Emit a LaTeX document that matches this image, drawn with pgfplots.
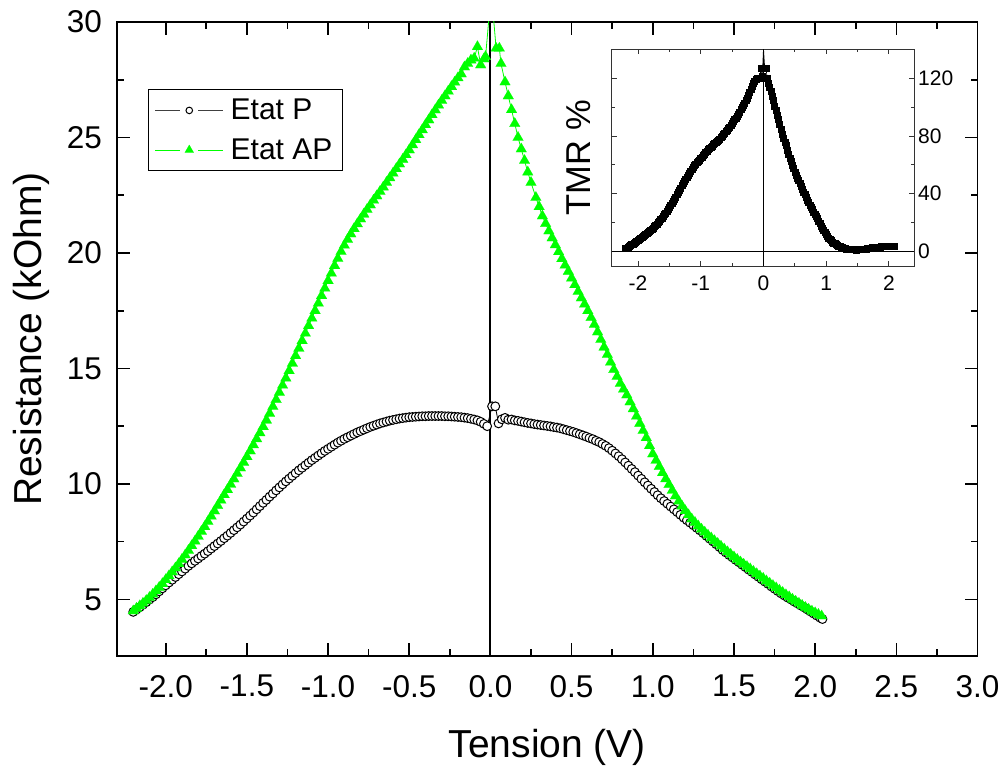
\documentclass[border=0pt]{standalone}
\usepackage{fontspec}
\setmainfont{Liberation Sans}
\usepackage{pgfplots}
\pgfplotsset{compat=1.18}
\usepackage{pgfplotstable}
\definecolor{apgreen}{RGB}{0,255,0}
\pgfplotsset{/pgf/number format/assume math mode=true}

\pgfplotstableread{
x y
-2.20 4.46
-2.18 4.56
-2.16 4.66
-2.14 4.77
-2.12 4.88
-2.10 4.99
-2.08 5.10
-2.06 5.22
-2.04 5.35
-2.02 5.48
-2.00 5.61
-1.98 5.73
-1.96 5.85
-1.94 5.97
-1.92 6.09
-1.90 6.21
-1.88 6.33
-1.86 6.45
-1.84 6.56
-1.82 6.67
-1.80 6.77
-1.78 6.88
-1.76 6.98
-1.74 7.09
-1.72 7.20
-1.70 7.31
-1.68 7.42
-1.66 7.53
-1.64 7.65
-1.62 7.76
-1.60 7.88
-1.58 8.00
-1.56 8.12
-1.54 8.24
-1.52 8.37
-1.50 8.50
-1.48 8.63
-1.46 8.76
-1.44 8.90
-1.42 9.04
-1.40 9.18
-1.38 9.31
-1.36 9.45
-1.34 9.58
-1.32 9.72
-1.30 9.85
-1.28 9.98
-1.26 10.11
-1.24 10.23
-1.22 10.35
-1.20 10.47
-1.18 10.59
-1.16 10.70
-1.14 10.81
-1.12 10.92
-1.10 11.03
-1.08 11.13
-1.06 11.23
-1.04 11.33
-1.02 11.43
-1.00 11.52
-0.98 11.61
-0.96 11.70
-0.94 11.79
-0.92 11.87
-0.90 11.95
-0.88 12.02
-0.86 12.09
-0.84 12.16
-0.82 12.23
-0.80 12.29
-0.78 12.35
-0.76 12.41
-0.74 12.47
-0.72 12.52
-0.70 12.57
-0.68 12.62
-0.66 12.66
-0.64 12.70
-0.62 12.74
-0.60 12.77
-0.58 12.80
-0.56 12.83
-0.54 12.85
-0.52 12.87
-0.50 12.89
-0.48 12.90
-0.46 12.91
-0.44 12.92
-0.42 12.93
-0.40 12.93
-0.38 12.94
-0.36 12.94
-0.34 12.94
-0.32 12.94
-0.30 12.94
-0.28 12.93
-0.26 12.93
-0.24 12.92
-0.22 12.91
-0.20 12.90
-0.18 12.89
-0.16 12.87
-0.14 12.85
-0.12 12.82
-0.10 12.79
-0.08 12.75
-0.06 12.69
-0.04 12.60
-0.02 12.50
0.01 13.36
0.03 13.36
0.05 12.62
0.07 12.80
0.09 12.86
0.11 12.78
0.13 12.79
0.15 12.75
0.17 12.73
0.19 12.70
0.21 12.67
0.23 12.64
0.25 12.62
0.27 12.59
0.29 12.57
0.31 12.55
0.33 12.53
0.35 12.51
0.37 12.49
0.39 12.46
0.41 12.44
0.43 12.41
0.45 12.37
0.47 12.33
0.49 12.29
0.51 12.25
0.53 12.20
0.55 12.15
0.57 12.10
0.59 12.05
0.61 11.99
0.63 11.94
0.65 11.87
0.67 11.81
0.69 11.73
0.71 11.65
0.73 11.55
0.75 11.44
0.77 11.32
0.79 11.20
0.81 11.07
0.83 10.93
0.85 10.79
0.87 10.65
0.89 10.51
0.91 10.36
0.93 10.22
0.95 10.07
0.97 9.93
0.99 9.79
1.01 9.65
1.03 9.51
1.05 9.38
1.07 9.26
1.09 9.14
1.11 9.02
1.13 8.90
1.15 8.78
1.17 8.66
1.19 8.54
1.21 8.43
1.23 8.32
1.25 8.21
1.27 8.10
1.29 7.99
1.31 7.87
1.33 7.75
1.35 7.63
1.37 7.51
1.39 7.39
1.41 7.27
1.43 7.14
1.45 7.03
1.47 6.92
1.49 6.82
1.51 6.71
1.53 6.61
1.55 6.50
1.57 6.40
1.59 6.29
1.61 6.19
1.63 6.08
1.65 5.98
1.67 5.87
1.69 5.77
1.71 5.67
1.73 5.56
1.75 5.46
1.77 5.36
1.79 5.26
1.81 5.17
1.83 5.08
1.85 5.00
1.87 4.91
1.89 4.83
1.91 4.74
1.93 4.66
1.95 4.57
1.97 4.48
1.99 4.39
2.01 4.30
2.03 4.21
2.045 4.15
}\dataP

\pgfplotstableread{
x y
-2.20 4.50
-2.18 4.61
-2.16 4.72
-2.14 4.83
-2.12 4.95
-2.10 5.08
-2.08 5.22
-2.06 5.37
-2.04 5.52
-2.02 5.68
-2.00 5.85
-1.98 6.02
-1.96 6.19
-1.94 6.36
-1.92 6.54
-1.90 6.73
-1.88 6.92
-1.86 7.12
-1.84 7.32
-1.82 7.52
-1.80 7.73
-1.78 7.94
-1.76 8.15
-1.74 8.37
-1.72 8.60
-1.70 8.83
-1.68 9.06
-1.66 9.29
-1.64 9.53
-1.62 9.75
-1.60 9.98
-1.58 10.21
-1.56 10.45
-1.54 10.69
-1.52 10.93
-1.50 11.18
-1.48 11.43
-1.46 11.69
-1.44 11.95
-1.42 12.21
-1.40 12.48
-1.38 12.76
-1.36 13.05
-1.34 13.35
-1.32 13.65
-1.30 13.96
-1.28 14.27
-1.26 14.58
-1.24 14.90
-1.22 15.22
-1.20 15.55
-1.18 15.87
-1.16 16.20
-1.14 16.52
-1.12 16.85
-1.10 17.17
-1.08 17.50
-1.06 17.82
-1.04 18.15
-1.02 18.47
-1.00 18.80
-0.98 19.12
-0.96 19.45
-0.94 19.76
-0.92 20.06
-0.90 20.33
-0.88 20.58
-0.86 20.82
-0.84 21.05
-0.82 21.26
-0.80 21.47
-0.78 21.68
-0.76 21.88
-0.74 22.08
-0.72 22.28
-0.70 22.47
-0.68 22.66
-0.66 22.85
-0.64 23.05
-0.62 23.25
-0.60 23.45
-0.58 23.65
-0.56 23.85
-0.54 24.05
-0.52 24.25
-0.50 24.46
-0.48 24.68
-0.46 24.90
-0.44 25.12
-0.42 25.33
-0.40 25.55
-0.38 25.76
-0.36 25.98
-0.34 26.19
-0.32 26.40
-0.30 26.60
-0.28 26.80
-0.26 27.00
-0.24 27.20
-0.22 27.39
-0.20 27.58
-0.18 27.75
-0.16 28.05
-0.14 28.20
-0.12 28.35
-0.10 28.43
-0.08 28.93
-0.06 28.14
-0.04 28.40
-0.03 28.50
-0.01 30.10
0.02 30.10
0.035 28.86
0.055 28.86
0.065 28.20
0.09 27.40
0.11 26.80
0.13 26.20
0.15 25.60
0.17 25.00
0.19 24.50
0.21 24.00
0.23 23.50
0.25 23.05
0.28 22.40
0.30 22.00
0.32 21.60
0.34 21.27
0.36 20.95
0.38 20.65
0.40 20.35
0.42 20.05
0.44 19.75
0.46 19.47
0.48 19.20
0.50 18.91
0.52 18.62
0.54 18.33
0.56 18.05
0.58 17.78
0.60 17.50
0.62 17.20
0.64 16.90
0.66 16.58
0.68 16.25
0.70 15.92
0.72 15.60
0.74 15.27
0.76 14.95
0.78 14.65
0.80 14.35
0.82 14.10
0.84 13.85
0.86 13.55
0.88 13.25
0.90 12.93
0.92 12.62
0.94 12.31
0.96 12.00
0.98 11.65
1.00 11.30
1.02 11.02
1.04 10.75
1.06 10.48
1.08 10.22
1.10 9.97
1.12 9.72
1.14 9.48
1.16 9.25
1.18 9.04
1.20 8.84
1.22 8.66
1.24 8.48
1.26 8.33
1.28 8.18
1.30 8.04
1.32 7.91
1.34 7.78
1.36 7.66
1.38 7.54
1.40 7.42
1.42 7.30
1.44 7.18
1.46 7.06
1.48 6.95
1.50 6.84
1.52 6.73
1.54 6.62
1.56 6.52
1.58 6.42
1.60 6.32
1.62 6.21
1.64 6.11
1.66 6.01
1.68 5.91
1.70 5.80
1.72 5.70
1.74 5.60
1.76 5.50
1.78 5.40
1.80 5.30
1.82 5.20
1.84 5.11
1.86 5.01
1.88 4.92
1.90 4.83
1.92 4.74
1.94 4.65
1.96 4.57
1.98 4.49
2.00 4.42
2.02 4.35
2.04 4.28
}\dataAP

\pgfplotstableread{
x y
-2.20 2.0
-2.18 2.5
-2.16 3.0
-2.14 3.5
-2.12 4.1
-2.10 4.7
-2.08 5.3
-2.06 5.9
-2.04 6.5
-2.02 7.1
-2.00 7.7
-1.98 8.3
-1.96 9.0
-1.94 9.7
-1.92 10.4
-1.90 11.1
-1.88 11.8
-1.86 12.5
-1.84 13.2
-1.82 14.0
-1.80 14.8
-1.78 15.6
-1.76 16.4
-1.74 17.3
-1.72 18.2
-1.70 19.2
-1.68 20.2
-1.66 21.2
-1.64 22.3
-1.62 23.3
-1.60 24.4
-1.58 25.5
-1.56 26.6
-1.54 27.8
-1.52 29.0
-1.50 30.4
-1.48 31.9
-1.46 33.3
-1.44 34.8
-1.42 36.3
-1.40 37.8
-1.38 39.3
-1.36 40.9
-1.34 42.5
-1.32 44.1
-1.30 45.6
-1.28 47.2
-1.26 48.7
-1.24 50.2
-1.22 51.6
-1.20 53.0
-1.18 54.4
-1.16 55.8
-1.14 57.1
-1.12 58.3
-1.10 59.5
-1.08 60.6
-1.06 61.6
-1.04 62.6
-1.02 63.5
-1.00 64.5
-0.98 65.5
-0.96 66.5
-0.94 67.6
-0.92 68.6
-0.90 69.6
-0.88 70.6
-0.86 71.5
-0.84 72.3
-0.82 73.1
-0.80 73.9
-0.78 74.7
-0.76 75.5
-0.74 76.3
-0.72 77.1
-0.70 78.0
-0.68 79.0
-0.66 79.9
-0.64 80.9
-0.62 81.9
-0.60 83.0
-0.58 84.1
-0.56 85.2
-0.54 86.3
-0.52 87.5
-0.50 88.7
-0.48 90.0
-0.46 91.2
-0.44 92.5
-0.42 93.8
-0.40 95.2
-0.38 96.7
-0.36 98.2
-0.34 99.7
-0.32 101.3
-0.30 102.9
-0.28 104.6
-0.26 106.4
-0.24 108.3
-0.22 110.2
-0.20 112.2
-0.18 114.2
-0.16 116.3
-0.14 117.8
-0.12 119.0
-0.10 120.2
-0.08 120.0
-0.06 119.6
-0.04 126.8
-0.02 121.0
0.00 141.0
0.02 127.0
0.04 126.5
0.06 120.0
0.08 116.5
0.10 113.5
0.12 111.0
0.14 107.8
0.16 104.5
0.18 100.8
0.20 97.5
0.22 94.5
0.24 91.5
0.26 88.0
0.28 84.5
0.30 81.0
0.32 78.5
0.34 75.8
0.36 73.2
0.38 70.3
0.40 67.5
0.42 64.8
0.44 62.2
0.46 59.8
0.48 57.5
0.50 55.2
0.52 53.0
0.54 51.0
0.56 49.0
0.58 47.1
0.60 45.2
0.62 43.2
0.64 41.2
0.66 39.3
0.68 37.5
0.70 35.7
0.72 34.0
0.74 32.2
0.76 30.5
0.78 29.0
0.80 27.5
0.82 26.0
0.84 24.4
0.86 22.8
0.88 21.2
0.90 19.5
0.92 17.8
0.94 16.1
0.96 14.5
0.98 13.1
1.00 11.8
1.02 10.6
1.04 9.5
1.06 8.5
1.08 7.5
1.10 6.7
1.12 6.0
1.14 5.4
1.16 4.8
1.18 4.2
1.20 3.7
1.22 3.3
1.24 2.9
1.26 2.6
1.28 2.3
1.30 2.1
1.32 1.9
1.34 1.7
1.36 1.6
1.38 1.5
1.40 1.4
1.42 1.35
1.44 1.3
1.46 1.25
1.48 1.2
1.50 1.25
1.52 1.3
1.54 1.35
1.56 1.4
1.58 1.5
1.60 1.6
1.62 1.75
1.64 1.9
1.66 2.05
1.68 2.2
1.70 2.35
1.72 2.5
1.74 2.65
1.76 2.8
1.78 2.9
1.80 3.0
1.82 3.1
1.84 3.2
1.86 3.25
1.88 3.3
1.90 3.35
1.92 3.4
1.94 3.45
1.96 3.5
1.98 3.5
2.00 3.5
2.02 3.5
2.04 3.5
2.06 3.5
2.08 3.5
}\dataT

\begin{document}
\begin{tikzpicture}
\useasboundingbox (0pt,0pt) rectangle (1003pt,766pt);
\begin{axis}[
  at={(117pt,110pt)}, anchor=south west,
  scale only axis, width=860.5pt, height=634pt,
  xmin=-2.3, xmax=3.0, ymin=2.55, ymax=30,
  xtick={-2,-1.5,-1,-0.5,0,0.5,1,1.5,2,2.5,3},
  ytick={5,10,15,20,25,30},
  minor x tick num=1, minor y tick num=1,
  tick align=inside, major tick length=13pt, minor tick length=7pt,
  axis line style={line width=1.8pt, black},
  tick style={line width=1.6pt, black},
  xticklabel style={font=\fontsize{31.5}{36}\selectfont, inner sep=0pt, yshift=-19pt,
    /pgf/number format/.cd, fixed, fixed zerofill, precision=1},
  yticklabel style={font=\fontsize{31.5}{36}\selectfont, inner sep=0pt, xshift=-15pt},
  xlabel={Tension (V)},
  ylabel={Resistance (kOhm)},
  xlabel style={font=\fontsize{39}{46}\selectfont, at={(axis description cs:0.5,-0.1598)}, anchor=base},
  ylabel style={font=\fontsize{39}{46}\selectfont, at={(axis description cs:-0.0872,0.5)}, anchor=base},
  legend style={at={(axis description cs:0.0357,0.894)}, anchor=north west,
    draw=black, line width=0.8pt, font=\fontsize{30}{36}\selectfont,
    inner sep=6.75pt, row sep=11.5pt, column sep=4pt, nodes={inner sep=3pt}},
  legend cell align=left,
  legend image code/.code={
    \draw[#1, mark=none] (0pt,0pt) -- (25pt,0pt);
    \draw[#1, mark=none] (43pt,0pt) -- (68pt,0pt);
    \draw[#1, only marks] plot coordinates {(34pt,0pt)};},
]
\addplot[black, line width=0.8pt, mark=*, mark size=4.4pt,
  mark options={solid, fill=white, draw=black, line width=1pt},
  legend image post style={mark size=3.3pt, black!75}] table {\dataP};
\addlegendentry{Etat P}
\addplot[apgreen, line width=0.8pt, mark=triangle*, mark size=6.2pt,
  mark options={solid, fill=apgreen, draw=apgreen, line width=0.1pt},
  legend image post style={mark size=5.2pt}] table {\dataAP};
\addlegendentry{Etat AP}
\addplot[black, line width=2pt, forget plot] coordinates {(0,2.55) (0,30)};
\end{axis}

\begin{axis}[
  at={(611.7pt,500pt)}, anchor=south west,
  scale only axis, width=302.3pt, height=216.7pt,
  xmin=-2.42, xmax=2.4, ymin=-10, ymax=140,
  xtick={-2,-1,0,1,2}, ytick={0,40,80,120},
  minor x tick num=1, minor y tick num=1,
  yticklabel pos=right,
  tick align=inside, major tick length=5pt, minor tick length=3pt,
  axis line style={line width=0.9pt, black!80},
  tick style={line width=0.9pt, black!80},
  xticklabel style={font=\fontsize{21}{25}\selectfont, inner sep=0pt, yshift=-10pt},
  yticklabel style={font=\fontsize{21}{25}\selectfont, inner sep=0pt, xshift=4pt},
  ylabel={TMR \%},
  ylabel style={font=\fontsize{34.5}{40}\selectfont, at={(axis description cs:-0.0718,0.5)}, anchor=base},
  axis background/.style={fill=white},
]
\addplot[black, line width=1.3pt, forget plot] coordinates {(-2.42,0) (2.4,0)};
\addplot[black, line width=0.7pt, forget plot] coordinates {(0,-10) (0,140)};
\addplot[black, line width=0.6pt, mark=square*, mark size=3pt, mark options={solid}] table {\dataT};
\end{axis}
\end{tikzpicture}
\end{document}
